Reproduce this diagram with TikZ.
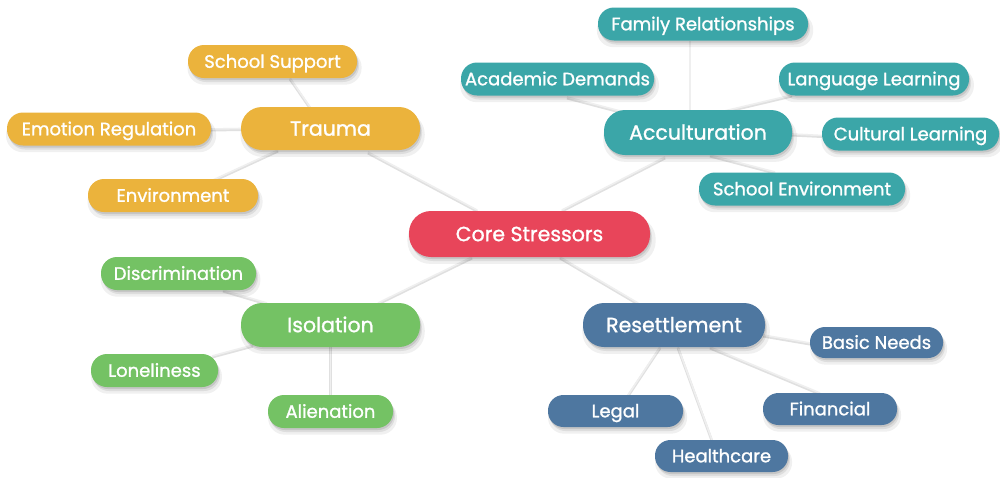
\documentclass[tikz,border=0pt]{standalone}
\usepackage{fontspec}
\setmainfont{Poppins}[UprightFeatures={FakeBold=1.2}]
\usetikzlibrary{shadows}
\definecolor{cred}{HTML}{E8455A}
\definecolor{cyel}{HTML}{EBB33C}
\definecolor{cteal}{HTML}{3BA6A8}
\definecolor{cgreen}{HTML}{74C264}
\definecolor{cblue}{HTML}{4E77A0}
\definecolor{clink}{HTML}{EFEFEF}
\pgfdeclarelayer{bg}
\pgfsetlayers{bg,main}
\tikzset{
  softshadow/.style={
    general shadow={fill=black, opacity=0.06, shadow xshift=2pt, shadow yshift=-6pt, shadow scale=1.03},
    general shadow={fill=black, opacity=0.08, shadow xshift=2pt, shadow yshift=-4pt},
    general shadow={fill=black, opacity=0.10, shadow xshift=1pt, shadow yshift=-2pt}},
  mainbox/.style={fill=#1, text=white, rounded corners=21pt, minimum height=44pt,
    inner sep=0pt, font=\fontsize{20.5}{20.5}\selectfont, text height=14.3pt, text depth=0pt, softshadow},
  childbox/.style={fill=#1, text=white, rounded corners=16pt, minimum height=33pt,
    inner sep=0pt, font=\fontsize{18}{18}\selectfont, text height=12.6pt, text depth=0pt, softshadow},
  link/.style={draw=clink, line width=1.6pt,
    preaction={draw=black, opacity=0.12, line width=2.6pt, transform canvas={yshift=-1.2pt}}}
}
\begin{document}
\begin{tikzpicture}[x=1pt, y=-1pt]
\useasboundingbox (0,0) rectangle (1000,477);

% core
\node[mainbox=cred, minimum width=241pt, minimum height=46pt, rounded corners=22pt] (core) at (529.5,234) {Core Stressors};

% trauma
\node[mainbox=cyel, minimum width=179pt, minimum height=43pt] (trauma) at (330.5,128.5) {Trauma};
\node[childbox=cyel, minimum width=169pt] (school) at (272.5,61.5) {School Support};
\node[childbox=cyel, minimum width=204pt] (emotion) at (109,129) {Emotion Regulation};
\node[childbox=cyel, minimum width=170pt] (environ) at (173,195.5) {Environment};

% acculturation
\node[mainbox=cteal, minimum width=188pt, minimum height=45pt] (accult) at (698,132.5) {Acculturation};
\node[childbox=cteal, minimum width=210pt] (family) at (703,24) {Family Relationships};
\node[childbox=cteal, minimum width=193pt] (academic) at (557.5,79) {Academic Demands};
\node[childbox=cteal, minimum width=190pt] (language) at (874,79) {Language Learning};
\node[childbox=cteal, minimum width=177pt] (cultural) at (910.5,134) {Cultural Learning};
\node[childbox=cteal, minimum width=206pt] (schoolenv) at (802,189) {School Environment};

% isolation
\node[mainbox=cgreen, minimum width=179pt] (isolation) at (330.5,325) {Isolation};
\node[childbox=cgreen, minimum width=155pt] (discrim) at (178.5,273.5) {Discrimination};
\node[childbox=cgreen, minimum width=127pt] (lonely) at (154.5,370.5) {Loneliness};
\node[childbox=cgreen, minimum width=125pt] (alien) at (330.5,411.5) {Alienation};

% resettlement
\node[mainbox=cblue, minimum width=182pt] (resettle) at (674,325) {Resettlement};
\node[childbox=cblue, minimum width=133pt, minimum height=31pt, rounded corners=15pt] (basic) at (876.5,342.5) {Basic Needs};
\node[childbox=cblue, minimum width=135pt, minimum height=32pt, rounded corners=15.5pt] (legal) at (615.5,411) {Legal};
\node[childbox=cblue, minimum width=134pt, minimum height=32pt, rounded corners=15.5pt] (financial) at (830,409) {Financial};
\node[childbox=cblue, minimum width=133pt, minimum height=32pt, rounded corners=15.5pt] (health) at (721.5,456) {Healthcare};

\begin{pgfonlayer}{bg}
\fill[white] (0,0) rectangle (1000,477);
\draw[link] ([shift={(37.5,23.5)}]trauma.center) -- ([shift={(-52.5,-24)}]core.center);
\draw[link] ([shift={(-33,24.5)}]accult.center) -- ([shift={(32.5,-24)}]core.center);
\draw[link] ([shift={(-57.5,23)}]core.center) -- ([shift={(47.5,-22)}]isolation.center);
\draw[link] ([shift={(30.5,23)}]core.center) -- ([shift={(-36,-22)}]resettle.center);

\draw[link] ([shift={(17.5,16.5)}]school.center) -- ([shift={(-20.5,-21.5)}]trauma.center);
\draw[link] ([shift={(102,0)}]emotion.center) -- ([shift={(-89.5,0)}]trauma.center);
\draw[link] ([shift={(40,-15.5)}]environ.center) -- ([shift={(-52.5,21.5)}]trauma.center);

\draw[link] ([shift={(-13,17)}]family.center) -- ([shift={(-8,-22.5)}]accult.center);
\draw[link] ([shift={(9.5,18)}]academic.center) -- ([shift={(-74,-20.5)}]accult.center);
\draw[link] ([shift={(22,-20.5)}]accult.center) -- ([shift={(-82,16)}]language.center);
\draw[link] ([shift={(94,1.5)}]accult.center) -- ([shift={(-88.5,1.5)}]cultural.center);
\draw[link] ([shift={(12,22.5)}]accult.center) -- ([shift={(-27,-17)}]schoolenv.center);

\draw[link] ([shift={(44.5,16.5)}]discrim.center) -- ([shift={(-63.5,-22)}]isolation.center);
\draw[link] ([shift={(57.5,-14.5)}]lonely.center) -- ([shift={(-77.5,20)}]isolation.center);
\draw[link] (isolation.center) -- (alien.center);

\draw[link] ([shift={(89,10)}]resettle.center) -- ([shift={(-66.5,0.5)}]basic.center);
\draw[link] ([shift={(-14,22)}]resettle.center) -- ([shift={(12.5,-16)}]legal.center);
\draw[link] ([shift={(4,22)}]resettle.center) -- ([shift={(-9.5,-16)}]health.center);
\draw[link] ([shift={(36,22)}]resettle.center) -- ([shift={(-10,-16)}]financial.center);
\end{pgfonlayer}
\end{tikzpicture}
\end{document}
